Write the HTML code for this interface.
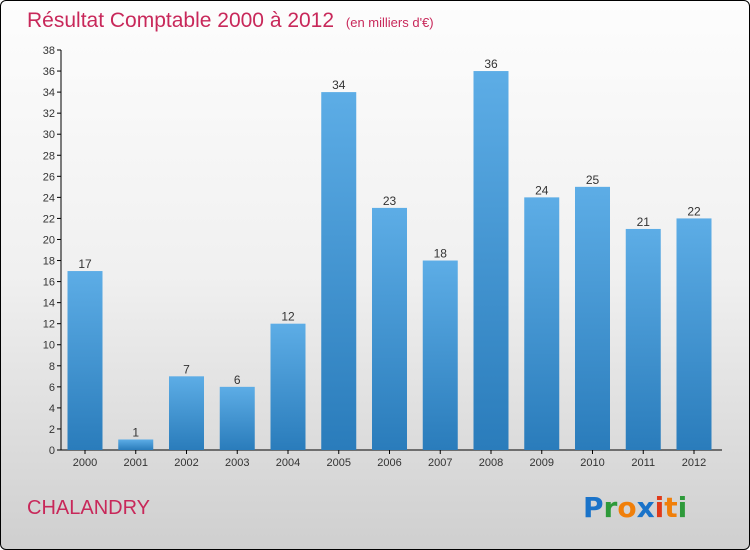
<!DOCTYPE html>
<html><head><meta charset="utf-8"><style>
body{margin:0;width:750px;height:550px;overflow:hidden;font-family:"Liberation Sans",sans-serif}
#frame{position:absolute;left:0;top:0;width:748px;height:548px;border:1px solid #000;border-radius:6px;background:linear-gradient(#fdfdfd 0%,#f0f0f0 50%,#cfcfcf 100%)}
</style></head><body>
<div id="frame"></div>
<svg id="chart" width="750" height="550" style="position:absolute;left:0;top:0">
<defs><linearGradient id="bg" x1="0" y1="0" x2="0" y2="1"><stop offset="0" stop-color="#5dade6"/><stop offset="1" stop-color="#2a7cbb"/></linearGradient></defs>
<text x="27" y="27" font-size="21" fill="#c8285a">Résultat Comptable 2000 à 2012 <tspan font-size="13" dx="6">(en milliers d'€)</tspan></text>
<text x="27" y="514" font-size="20" fill="#c8285a">CHALANDRY</text>
<g font-size="28" font-family="'DejaVu Sans',sans-serif" font-weight="bold">
<text x="583" y="517"><tspan fill="#1a73c9">P</tspan><tspan fill="#2e9a3a">r</tspan><tspan fill="#f07f0a">o</tspan><tspan fill="#1a73c9">x</tspan><tspan fill="#e03a1a">i</tspan><tspan fill="#f07f0a">t</tspan><tspan fill="#2e9a3a">i</tspan></text></g>
<g id="axes"></g><g id="bars"></g>
</svg>
<script>
const categories=["2000","2001","2002","2003","2004","2005","2006","2007","2008","2009","2010","2011","2012"];
const values=[17,1,7,6,12,34,23,18,36,24,25,21,22];
const yTicks=[0,2,4,6,8,10,12,14,16,18,20,22,24,26,28,30,32,34,36,38];
const y0=450,yTop=50,yMax=38,x0=85,step=50.75,bw=35;
const ys=v=>y0-(v/yMax)*(y0-yTop);
const xs=i=>x0+i*step;
const NS="http://www.w3.org/2000/svg";
function mk(t,a,p){const e=document.createElementNS(NS,t);for(const k in a)e.setAttribute(k,a[k]);p.appendChild(e);return e;}
const ax=document.getElementById('axes'),bars=document.getElementById('bars');
let l=mk('line',{x1:61,y1:ys(yMax),x2:61,y2:y0,stroke:'#000'},ax);


l=mk('line',{x1:61,y1:y0,x2:722,y2:y0,stroke:'#000'},ax);


yTicks.forEach(v=>{mk('line',{x1:57,x2:61,y1:ys(v),y2:ys(v),stroke:'#000'},ax);
const t=mk('text',{x:55,y:ys(v)+4,'font-size':11,'text-anchor':'end',fill:'#333'},ax);t.textContent=v;

});
categories.forEach((c,i)=>{const x=xs(i);
mk('line',{x1:x,x2:x,y1:y0,y2:y0+4,stroke:'#000'},ax);
const t=mk('text',{x:x,y:y0+16,'font-size':11,'text-anchor':'middle',fill:'#333'},ax);t.textContent=c;


const r=mk('rect',{x:x-bw/2,y:ys(values[i]),width:bw,height:y0-ys(values[i]),fill:'url(#bg)'},bars);


const v=mk('text',{x:x,y:ys(values[i])-3,'font-size':12,'text-anchor':'middle',fill:'#333'},bars);v.textContent=values[i];

});
</script>
</body></html>
